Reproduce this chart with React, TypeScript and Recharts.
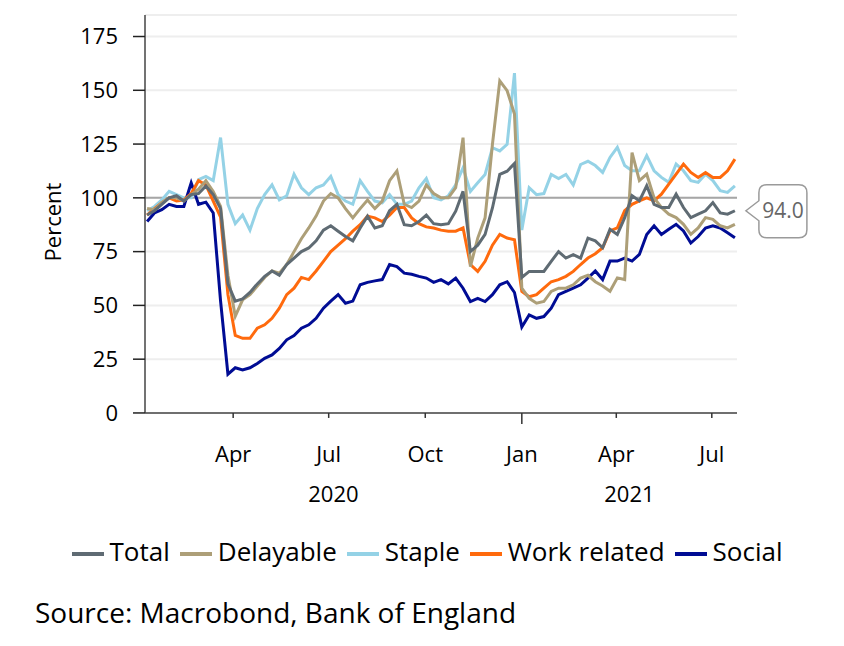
import React from "react";
import {
  LineChart,
  Line,
  XAxis,
  YAxis,
  CartesianGrid,
  ReferenceLine,
  ReferenceDot,
  Legend,
  Label,
} from "recharts";

const FONT = '"Open Sans", "Noto Sans", sans-serif';

// weekly readings, first one on 10 Jan 2020
const startDate = Date.UTC(2020, 0, 10);
const DAY = 86400000;

const total = [
  92, 94, 97, 100, 101, 98.5, 101.5, 102, 105.5, 101.5,
  95, 60, 52, 53, 56, 60, 63.5, 66, 64, 69,
  72, 75, 76.7, 80, 85, 87, 84.5, 82, 80, 86,
  91.5, 86, 87, 94, 97, 87.5, 87, 89, 92, 88,
  87.5, 88, 93.8, 103, 75, 78, 83, 95.3, 110.9, 112.4,
  116, 63, 65.8, 65.8, 65.8, 70.5, 75, 72, 73.6, 72,
  81.3, 80, 76.8, 85.4, 83, 90.8, 101, 98.6, 105.6, 97,
  95.5, 95.5, 101.7, 95.5, 90.8, 92.4, 94, 97.8, 93, 92.4,
  94,
];

const delayable = [
  95, 94.5, 97.7, 100, 100, 98.5, 101.5, 104, 108, 103,
  96, 64, 45, 52.6, 55, 59, 63, 66, 65, 69,
  75, 81, 86, 91.5, 98.5, 102, 100, 95, 90.7, 95,
  99, 95, 98.5, 108, 112.5, 97, 95.5, 98.5, 106, 102,
  100, 100, 104.7, 128, 68, 81.3, 90.7, 124.9, 154.4, 149.8,
  139, 58, 53.3, 51, 51.8, 56.5, 58, 58, 59.6, 62.7,
  64, 61, 59, 56.6, 62.8, 62, 121, 108, 111, 100,
  95.5, 92.4, 90.8, 87.7, 83, 86, 90.8, 90, 87, 86,
  87.7,
];

const staple = [
  94, 96, 99, 103, 101.5, 100, 100, 108.5, 110, 108,
  128, 97, 88, 92, 85, 95, 101.5, 106, 99, 101,
  111, 104.7, 101.5, 104.7, 106, 110, 101.5, 98.5, 97, 108,
  103, 98.5, 97.7, 101.5, 97, 97, 98.5, 104.7, 109, 100,
  99, 101, 106, 114, 103, 107, 110.9, 123.3, 121.8, 124.9,
  158, 85, 104.7, 101.5, 102, 110.9, 109, 110.9, 106, 115.5,
  117, 115, 111.8, 118.8, 123.5, 115, 112.6, 112.6, 119.6, 112.6,
  109.5, 107.2, 115.7, 112.6, 108, 107.2, 111, 108, 103.3, 102.5,
  105.6,
];

const workRelated = [
  92, 95, 97.7, 100, 98.5, 99, 102, 108, 106, 98.5,
  91, 55, 36, 34.7, 34.7, 39.4, 41, 44, 48.7, 55,
  58, 63, 62, 66, 70.5, 75, 78, 81, 84.5, 87.5,
  91.5, 90.7, 89, 92, 95.5, 95.5, 90.7, 88, 86.5, 86,
  85, 84.5, 84.5, 86, 69, 65.8, 70.5, 78, 83, 81.3,
  80.5, 56.5, 54, 55, 58, 61, 62, 63.5, 65.8, 69,
  72, 74, 76.8, 84.6, 86, 94, 97, 98.6, 100, 98.6,
  101.7, 106.4, 111, 115.7, 111.8, 109.5, 111.8, 109.5, 109.5, 112.6,
  118,
];

const social = [
  89, 93, 94.5, 97, 96, 96, 107, 97, 98, 93,
  52, 18, 21, 20, 21, 23, 25.4, 27, 30, 34,
  36, 39.4, 41, 44, 48.7, 52, 55, 51, 52, 59.6,
  60.7, 61.4, 62, 69, 68, 65, 64.5, 63.5, 62.7, 60.7,
  62, 60, 62.7, 58, 51.8, 53.3, 51.8, 55, 59.6, 61,
  56, 40, 45.6, 44, 44.8, 48.7, 55, 56.5, 58, 59.6,
  62.7, 66, 62, 70.6, 70.6, 72, 70.6, 73.7, 83, 87,
  83, 85.4, 87.7, 84.6, 79, 82, 86, 87, 86, 83.8,
  81.5,
];

const seriesNames = ["Total", "Delayable", "Staple", "Work related", "Social"];
const seriesColors = ["#5f6b73", "#ad9f78", "#94d2e6", "#ff6a0d", "#000c94"];
const seriesValues = [total, delayable, staple, workRelated, social];
// paint order: staple at the back, total on top
const drawOrder = [2, 4, 3, 1, 0];

const yTicks = [0, 25, 50, 75, 100, 125, 150, 175];

const monthTickDates = [
  "2020-04-01",
  "2020-07-01",
  "2020-10-01",
  "2021-01-01",
  "2021-04-01",
  "2021-07-01",
].map((d) => Date.parse(d));
const monthLabels = ["Apr", "Jul", "Oct", "Jan", "Apr", "Jul"];

const axisStart = Date.UTC(2020, 0, 8);
const axisEnd = Date.UTC(2021, 6, 25);
const yearBreak = Date.UTC(2021, 0, 1);
const yearLabels = ["2020", "2021"];
const yearTickDates = [(axisStart + yearBreak) / 2, (yearBreak + axisEnd) / 2];

const data = total.map((_, i) => {
  const row: Record<string, number> = { date: startDate + i * 7 * DAY };
  seriesNames.forEach((name, s) => {
    row[name] = seriesValues[s][i];
  });
  return row;
});

const lastIdx = total.length - 1;

const XTick = (props: any) => {
  const { x, y, payload } = props;
  const yi = yearTickDates.indexOf(payload.value);
  if (yi >= 0) {
    return (
      <text x={x} y={y + 89} textAnchor="middle" fontSize={22} fontFamily={FONT} fill="#000">
        {yearLabels[yi]}
      </text>
    );
  }
  const mi = monthTickDates.indexOf(payload.value);
  const isJan = monthLabels[mi] === "Jan";
  return (
    <g>
      <line x1={x} x2={x} y1={y} y2={y + (isJan ? 11 : 5)} stroke="#333" strokeWidth={1.5} />
      <text x={x} y={y + 49} textAnchor="middle" fontSize={22} fontFamily={FONT} fill="#000">
        {monthLabels[mi]}
      </text>
    </g>
  );
};

const Callout = (props: any) => {
  const { cx, cy } = props;
  const l = cx + 24;
  const r = cx + 72;
  const t = cy - 26;
  const b = cy + 27;
  const d = `M${cx + 11},${cy} L${l},${cy - 10} L${l},${t + 8} Q${l},${t} ${l + 8},${t} L${r - 8},${t} Q${r},${t} ${r},${t + 8} L${r},${b - 8} Q${r},${b} ${r - 8},${b} L${l + 8},${b} Q${l},${b} ${l},${b - 8} L${l},${cy + 10} Z`;
  return (
    <g>
      <path d={d} fill="#fff" stroke="#9a9a9a" strokeWidth={1.5} />
      <text
        x={(l + r) / 2}
        y={cy}
        dy="0.35em"
        textAnchor="middle"
        fontSize={21}
        fontFamily={FONT}
        fill="#666"
      >
        {total[lastIdx].toFixed(1)}
      </text>
    </g>
  );
};

const PercentLabel = (props: any) => {
  const { viewBox } = props;
  const x = viewBox.x + 7;
  const y = viewBox.y + viewBox.height / 2 + 8;
  return (
    <text
      x={x}
      y={y}
      transform={`rotate(-90, ${x}, ${y})`}
      textAnchor="middle"
      dominantBaseline="central"
      fontSize={22}
      fontFamily={FONT}
      fill="#000"
    >
      Percent
    </text>
  );
};

export default function App() {
  return (
    <div style={{ position: "relative", width: 828, height: 630, fontFamily: FONT }}>
      <LineChart
        width={828}
        height={580}
        data={data}
        margin={{ top: 7, right: 99, left: 37, bottom: 18 }}
      >
        <CartesianGrid vertical={false} stroke="#eeeeee" strokeWidth={2} />
        <XAxis
          dataKey="date"
          type="number"
          scale="linear"
          domain={[axisStart, axisEnd]}
          allowDataOverflow
          ticks={[...monthTickDates, ...yearTickDates]}
          interval={0}
          tick={<XTick />}
          tickLine={false}
          tickSize={0}
          tickMargin={0}
          height={120}
          axisLine={{ stroke: "#444", strokeWidth: 1.5 }}
        />
        <YAxis
          type="number"
          domain={[0, 185]}
          ticks={yTicks}
          interval={0}
          width={100}
          tickSize={12}
          tickMargin={15}
          tick={{ fill: "#000", fontSize: 22, fontFamily: FONT }}
          tickLine={{ stroke: "#222", strokeWidth: 1.5 }}
          axisLine={{ stroke: "#444", strokeWidth: 1.5 }}
        >
          <Label content={<PercentLabel />} />
        </YAxis>
        <ReferenceLine y={100} stroke="#a6a6a6" strokeWidth={2} />
        {drawOrder.map((s) => (
          <Line
            key={seriesNames[s]}
            dataKey={seriesNames[s]}
            name={seriesNames[s]}
            stroke={seriesColors[s]}
            strokeWidth={3}
            dot={false}
            activeDot={false}
            type="linear"
            isAnimationActive={false}
          />
        ))}
        <ReferenceDot
          x={data[lastIdx].date}
          y={total[lastIdx]}
          r={0}
          ifOverflow="visible"
          shape={(p: any) => <Callout {...p} />}
        />
        <Legend
          verticalAlign="bottom"
          align="center"
          iconType="plainline"
          iconSize={32}
          itemSorter={(item: any) => seriesNames.indexOf(item.value)}
          formatter={(value: string) => (
            <span style={{ color: "#000", fontSize: 26, fontFamily: FONT, marginLeft: 2 }}>
              {value}
            </span>
          )}
          wrapperStyle={{ fontSize: 26, fontFamily: FONT, left: 10, width: 828 }}
        />
      </LineChart>
      <div
        style={{
          position: "absolute",
          left: 27,
          top: 589,
          fontSize: 28,
          lineHeight: "30px",
          color: "#000",
          fontFamily: FONT,
          whiteSpace: "nowrap",
        }}
      >
        Source: Macrobond, Bank of England
      </div>
    </div>
  );
}
